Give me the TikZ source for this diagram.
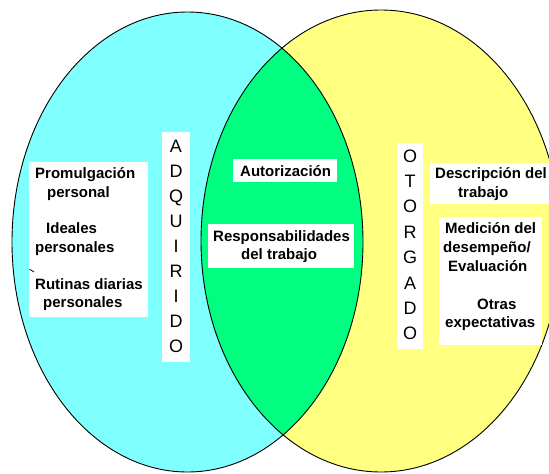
\documentclass[tikz,border=0pt]{standalone}
\usepackage{fontspec}
\setmainfont{Liberation Sans}
\definecolor{adq}{HTML}{80FFFF}
\definecolor{oto}{HTML}{FFFF80}
\definecolor{both}{HTML}{00FF80}
\tikzset{
  box/.style={fill=white, inner sep=0pt, anchor=north west},
  lbl/.style={font=\bfseries\fontsize{15}{17}\selectfont, inner sep=0pt, anchor=base west},
  letter/.style={font=\fontsize{18}{20}\selectfont, inner sep=0pt, anchor=base},
  rim/.style={draw=black, line width=0.9pt}
}
\begin{document}
\begin{tikzpicture}[x=1pt, y=-1pt]
  \useasboundingbox (0,0) rectangle (549,474);
  % the two sets and their overlap
  \fill[adq] (187.5,242) ellipse [x radius=175.5, y radius=230];
  \fill[oto] (381,241) ellipse [x radius=180, y radius=231];
  \begin{scope}
    \clip (187.5,242) ellipse [x radius=175.5, y radius=230];
    \fill[both] (381,241) ellipse [x radius=180, y radius=231];
  \end{scope}
  \draw[rim] (187.5,242) ellipse [x radius=175.5, y radius=230];
  \draw[rim] (381,241) ellipse [x radius=180, y radius=231];

  % white label boxes
  \node[box, minimum width=119pt, minimum height=155pt] (leftbox) at (29,162) {};
  \node[box, minimum width=28pt, minimum height=230pt] (adqcol) at (162,132) {};
  \node[box, minimum width=104pt, minimum height=23pt] (autbox) at (233,159) {};
  \node[box, minimum width=146pt, minimum height=44pt] (respbox) at (208,224) {};
  \node[box, minimum width=26pt, minimum height=206pt] (otocol) at (397,143) {};
  \node[box, minimum width=119pt, minimum height=41pt] (descbox) at (430,163) {};
  \node[box, minimum width=103pt, minimum height=128pt] (medbox) at (439,217) {};

  % left set
  \node[lbl] (prom) at (35,178) {Promulgación};
  \node[lbl] (pers) at (47,197) {personal};
  \node[lbl] (idea) at (46,233) {Ideales};
  \node[lbl] (persa) at (35,252) {personales};
  \node[lbl] (rut) at (35,289) {Rutinas diarias};
  \node[lbl] (persb) at (43,307) {personales};
  \draw[line width=0.8pt] (29.5,269.5) -- (31,270) -- (34,272);

  % vertical words
  \foreach \ch [count=\i from 0] in {A,D,Q,U,I,R,I,D,O}
    \node[letter] (adq\i) at (176, 152+25.1*\i) {\ch};
  \foreach \ch [count=\i from 0] in {O,T,O,R,G,A,D,O}
    \node[letter] (oto\i) at (410, 162+25.4*\i) {\ch};

  % overlap
  \node[lbl] (aut) at (240,176) {Autorización};
  \node[lbl] (resp) at (213,241.5) {Responsabilidades};
  \node[lbl] (deltr) at (241,259) {del trabajo};

  % right set
  \node[lbl] (desc) at (435,178) {Descripción del};
  \node[lbl] (trab) at (458,197) {trabajo};
  \node[lbl] (med) at (445,233) {Medición del};
  \node[lbl] (des) at (443,252) {desempeño/};
  \node[lbl] (eval) at (448,271) {Evaluación};
  \node[lbl] (otr) at (477,309) {Otras};
  \node[lbl] (exp) at (445,327) {expectativas};
\end{tikzpicture}
\end{document}
